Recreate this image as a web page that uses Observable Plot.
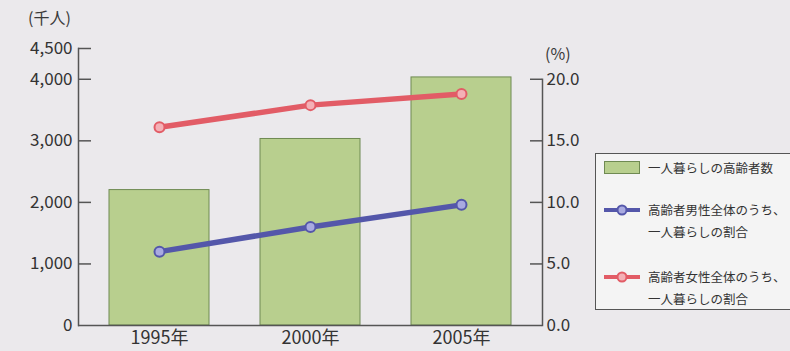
<!DOCTYPE html>
<html><head><meta charset="utf-8">
<script src="https://cdn.jsdelivr.net/npm/d3@7"></script>
<script src="https://cdn.jsdelivr.net/npm/@observablehq/plot@0.6"></script>
<style>
html,body{margin:0;padding:0;overflow:hidden;background:#ebe9ec;width:790px;height:351px;}
#wrap{position:relative;width:790px;height:351px;font-family:"Noto Sans CJK JP","Noto Sans",sans-serif;color:#333;overflow:hidden;}
#wrap svg{position:absolute;left:0;top:0;}
.unit{position:absolute;font-size:16px;line-height:18px;color:#3a3a3a;white-space:nowrap;}
#legend{position:absolute;left:595px;top:153px;width:230px;height:155px;border:1.5px solid #555;background:rgba(246,246,246,0.85);font-size:12.5px;color:#333;}
#legend .row{position:absolute;left:8px;display:flex;align-items:flex-start;white-space:nowrap;}
#legend .row svg{position:static;flex:none;margin-right:8px;}
#legend .txt{line-height:22px;}
</style></head><body><div id="wrap"></div>
<script>
// ---- data ----
const years = ["1995年", "2000年", "2005年"];
const elderlyAlone = [2200, 3030, 4030];          // 一人暮らしの高齢者数 (千人)
const maleShare = [6.0, 8.0, 9.8];                // 高齢者男性のうち一人暮らしの割合 (%)
const femaleShare = [16.1, 17.9, 18.8];           // 高齢者女性のうち一人暮らしの割合 (%)
const leftTicks = [0, 1000, 2000, 3000, 4000, 4500];
const rightTicks = [0, 5, 10, 15, 20];
const pctToCount = 200;                           // 20.0% aligns with 4,000 千人
const legendLabels = ["一人暮らしの高齢者数", ["高齢者男性全体のうち、", "一人暮らしの割合"], ["高齢者女性全体のうち、", "一人暮らしの割合"]];

const barColor = "#b8cf8e", barStroke = "#6f8a52";
const maleColor = "#5457aa", maleFill = "#a9aae0";
const femaleColor = "#e25c66", femaleFill = "#f4b0b6";

const bars = years.map((year, i) => ({year, value: elderlyAlone[i]}));
const male = years.map((year, i) => ({year, pct: maleShare[i]}));
const female = years.map((year, i) => ({year, pct: femaleShare[i]}));

const W = 790, H = 351, mT = 48, mB = 26, mL = 78, mR = 248;
const yMax = 4500;
const plotW = W - mL - mR;
const rightTop = (H - mT - mB) * (1 - rightTicks[rightTicks.length - 1] * pctToCount / yMax);
const leftTickLen = 13, rightTickLen = 12;

const chart = Plot.plot({
  width: W, height: H,
  marginTop: mT, marginBottom: mB, marginLeft: mL, marginRight: mR,
  style: {background: "transparent", fontFamily: '"Noto Sans CJK JP","Noto Sans",sans-serif', fontSize: "17px", color: "#333"},
  x: {domain: years, paddingInner: 0.335, paddingOuter: 0.2, label: null},
  y: {domain: [0, yMax], label: null},
  marks: [
    Plot.barY(bars, {x: "year", y: "value", fill: barColor, stroke: barStroke, strokeWidth: 1}),
    Plot.frame({anchor: "left", stroke: "#555", strokeWidth: 1.5}),
    Plot.frame({anchor: "right", stroke: "#555", strokeWidth: 1.5, insetTop: rightTop}),
    Plot.ruleY([0], {stroke: "#555", strokeWidth: 1.5}),
    Plot.tickY(leftTicks.filter(d => d > 0), {y: d => d, stroke: "#555", strokeWidth: 1.5, insetRight: plotW - leftTickLen}),
    Plot.tickY(rightTicks.filter(d => d > 0), {y: d => d * pctToCount, stroke: "#555", strokeWidth: 1.5, insetLeft: plotW - rightTickLen}),
    Plot.axisY(leftTicks, {anchor: "left", tickSize: 0, tickPadding: 6, tickFormat: d3.format(","), fontSize: 17, fill: "#333"}),
    Plot.axisY(rightTicks.map(d => d * pctToCount), {anchor: "right", tickSize: 0, tickPadding: 4, tickFormat: d => (d / pctToCount).toFixed(1), fontSize: 17, fill: "#333"}),
    Plot.axisX({tickSize: 0, tickPadding: 6, fontSize: 18, fill: "#333", label: null}),
    Plot.line(female, {x: "year", y: d => d.pct * pctToCount, stroke: femaleColor, strokeWidth: 5.5}),
    Plot.dot(female, {x: "year", y: d => d.pct * pctToCount, r: 5, fill: femaleFill, stroke: femaleColor, strokeWidth: 2}),
    Plot.line(male, {x: "year", y: d => d.pct * pctToCount, stroke: maleColor, strokeWidth: 5.5}),
    Plot.dot(male, {x: "year", y: d => d.pct * pctToCount, r: 5, fill: maleFill, stroke: maleColor, strokeWidth: 2})
  ]
});

const wrap = document.getElementById("wrap");
wrap.appendChild(chart);

function addUnit(text, left, top) {
  const d = document.createElement("div");
  d.className = "unit"; d.textContent = text;
  d.style.left = left + "px"; d.style.top = top + "px";
  wrap.appendChild(d);
}
addUnit("(千人)", 28, 8);
addUnit("(%)", 545, 44);

const legend = document.createElement("div");
legend.id = "legend";
const sw = (kind) => {
  if (kind === "bar") return `<svg width="36" height="14" style="margin-top:4px"><rect x="0.5" y="0.5" width="35" height="12" fill="${barColor}" stroke="${barStroke}"/></svg>`;
  const c = kind === "male" ? maleColor : femaleColor, f = kind === "male" ? maleFill : femaleFill;
  return `<svg width="36" height="14" style="margin-top:4px"><line x1="0" y1="7" x2="36" y2="7" stroke="${c}" stroke-width="4"/><circle cx="18" cy="7" r="4.5" fill="${f}" stroke="${c}" stroke-width="2"/></svg>`;
};
legend.innerHTML =
  `<div class="row" style="top:3px">${sw("bar")}<div class="txt">${legendLabels[0]}</div></div>` +
  `<div class="row" style="top:45px">${sw("male")}<div class="txt">${legendLabels[1][0]}<br>${legendLabels[1][1]}</div></div>` +
  `<div class="row" style="top:112px">${sw("female")}<div class="txt">${legendLabels[2][0]}<br>${legendLabels[2][1]}</div></div>`;
wrap.appendChild(legend);
</script>
</body></html>
